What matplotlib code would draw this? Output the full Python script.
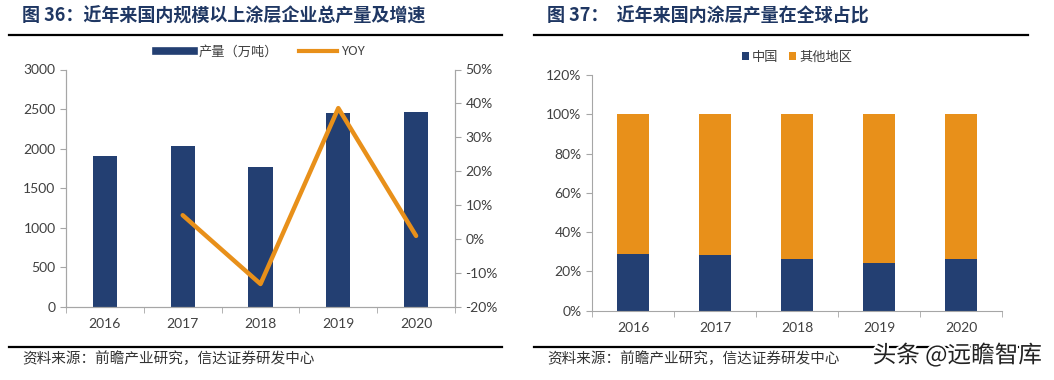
import matplotlib.pyplot as plt
import matplotlib.patheffects as pe
from matplotlib.lines import Line2D
from matplotlib.ticker import FuncFormatter

plt.rcParams['font.family'] = ['Lato', 'Noto Sans CJK SC', 'DejaVu Sans']

years = ["2016", "2017", "2018", "2019", "2020"]
output = [1905, 2035, 1762, 2445, 2462]          # 产量（万吨）
yoy = [None, 7.0, -13.3, 38.6, 0.9]              # %
china_share = [28.9, 28.4, 26.3, 24.4, 26.2]     # %
other_share = [100 - v for v in china_share]

navy = "#233f72"
orange = "#e8901a"
grey = "#a6a6a6"
txt = "#404040"
title_c = "#1f3763"
cjk = ['Noto Sans CJK SC', 'DejaVu Sans']

fig = plt.figure(figsize=(10.54, 3.8), dpi=100)

# titles, rules, sources
fig.text(22 / 1054, 1 - 16 / 380, "图 36：近年来国内规模以上涂层企业总产量及增速", family=cjk,
         fontsize=13, fontweight="bold", color=title_c, va="center")
fig.text(547 / 1054, 1 - 16 / 380, "图 37：  近年来国内涂层产量在全球占比", family=cjk,
         fontsize=13, fontweight="bold", color=title_c, va="center")
for x0, x1 in [(9, 502), (534, 1028)]:
    fig.add_artist(Line2D([x0 / 1054, x1 / 1054], [1 - 35 / 380] * 2, color="black", lw=1.6))
    fig.add_artist(Line2D([x0 / 1054, x1 / 1054], [1 - 347 / 380] * 2, color="black", lw=1.6))
for x in [22, 547]:
    fig.text(x / 1054, 1 - 359 / 380, "资料来源：前瞻产业研究，信达证券研发中心", family=cjk,
             fontsize=10.5, color="#333333", va="center")
wm = fig.text(1042 / 1054, 1 - 355 / 380, "头条 @远瞻智库", family=cjk, fontsize=17,
              color="#222222", ha="right", va="center")
wm.set_path_effects([pe.withStroke(linewidth=3, foreground="white")])

x = list(range(len(years)))

# ---- left chart
ax = fig.add_axes([66 / 1054, 1 - 306.7 / 380, (455 - 66) / 1054, (306.7 - 69.5) / 380])
ax.bar(x, output, width=0.31, color=navy, zorder=2)
ax.set_ylim(0, 3000)
ax.set_yticks(range(0, 3001, 500))
ax.set_xlim(-0.5, 4.5)
ax.set_xticks(x)
ax.set_xticklabels(years)
ax.set_xticks([i - 0.5 for i in range(6)], minor=True)
ax.tick_params(axis="x", which="major", length=0, pad=8)
ax.tick_params(axis="x", which="minor", length=4, color=grey)
ax.tick_params(axis="y", length=4, color=grey)
ax.tick_params(labelsize=10, labelcolor=txt)
ax.spines["top"].set_visible(False)
for s in ["left", "bottom", "right"]:
    ax.spines[s].set_color(grey)

ax2 = ax.twinx()
xs = [i for i, v in zip(x, yoy) if v is not None]
ys = [v for v in yoy if v is not None]
ax2.plot(xs, ys, color=orange, lw=3.2, solid_capstyle="round", zorder=3)
ax2.set_ylim(-20, 50)
ax2.set_yticks(range(-20, 51, 10))
ax2.yaxis.set_major_formatter(FuncFormatter(lambda v, p: f"{v:.0f}%"))
ax2.tick_params(axis="y", length=4, color=grey, labelsize=10, labelcolor=txt)
ax2.spines["top"].set_visible(False)
for s in ["left", "bottom", "right"]:
    ax2.spines[s].set_color(grey)

handles = [Line2D([], [], color=navy, lw=5.5), Line2D([], [], color=orange, lw=3)]
ax.legend(handles, ["产量（万吨）", "YOY"], loc="center", bbox_to_anchor=(0.5, 1.074), ncol=2,
          frameon=False, handlelength=2.9, columnspacing=1.6, handletextpad=0.3,
          prop={"family": cjk, "size": 9.5}, labelcolor=txt)

# ---- right chart
bx = fig.add_axes([592 / 1054, 1 - 310.7 / 380, (1002 - 592) / 1054, (310.7 - 75) / 380])
bx.bar(x, china_share, width=0.4, color=navy, label="中国", zorder=2)
bx.bar(x, other_share, width=0.4, bottom=china_share, color=orange, label="其他地区", zorder=2)
bx.set_ylim(0, 120)
bx.set_yticks(range(0, 121, 20))
bx.yaxis.set_major_formatter(FuncFormatter(lambda v, p: f"{v:.0f}%"))
bx.set_xlim(-0.5, 4.5)
bx.set_xticks(x)
bx.set_xticklabels(years)
bx.set_xticks([i - 0.5 for i in range(6)], minor=True)
bx.tick_params(axis="x", which="major", length=0, pad=8)
bx.tick_params(axis="x", which="minor", length=4, color=grey)
bx.tick_params(axis="y", length=4, color=grey)
bx.tick_params(labelsize=10, labelcolor=txt)
for s in ["top", "right"]:
    bx.spines[s].set_visible(False)
for s in ["left", "bottom"]:
    bx.spines[s].set_color(grey)
bx.legend(loc="center", bbox_to_anchor=(0.5, 1.076), ncol=2, frameon=False,
          handlelength=0.55, handleheight=0.55, handletextpad=0.2, columnspacing=0.8,
          prop={"family": cjk, "size": 9.5}, labelcolor=txt)

fig.savefig("out.png", dpi=100)
